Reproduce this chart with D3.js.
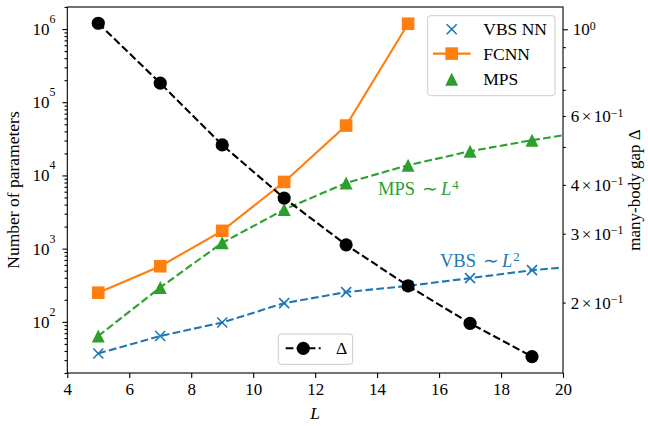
<!DOCTYPE html>
<html>
<head>
<meta charset="utf-8">
<script src="https://cdn.jsdelivr.net/npm/d3@7"></script>
<style>
    body { margin: 0; background: #fff; }
    svg { font-family: "Liberation Serif", "Times New Roman", serif; }
</style>
</head>
<body>
<svg id="chart" width="648" height="426"></svg>
<script>
    // values
    var sizesL = [5, 7, 9, 11, 13, 15, 17, 19];
    var fcnnL = [5, 7, 9, 11, 13, 15];
    var vbsParams = [37, 64, 98, 180, 255, 310, 395, 508];
    var fcnnParams = [250, 575, 1750, 8150, 48000, 1180000];
    var mpsParams = [64, 295, 1200, 3420, 7900, 13800, 21400, 30300];
    var gapValues = [1.036, 0.728, 0.506, 0.370, 0.281, 0.2206, 0.177, 0.1455];

    // dashed fit curves (read at these L)
    var fitL = [5, 7, 9, 11, 13, 15, 17, 19, 20];
    var vbsFit = [37, 64, 98, 180, 255, 310, 395, 508, 553];
    var mpsFit = [64, 295, 1200, 3420, 7900, 13800, 21400, 30300, 35400];

    var xTicks = [4, 6, 8, 10, 12, 14, 16, 18, 20];
    var leftExponents = [2, 3, 4, 5, 6];
    var rightMajor = [1];
    var rightLabelled = [0.6, 0.4, 0.3, 0.2];
    var rightLabelMant = ["6", "4", "3", "2"];
    var rightMinor = [0.9, 0.8, 0.7, 0.5];

    var legendNames = ["VBS NN", "FCNN", "MPS"];

    var colors = {
        vbs: "#1f77b4",
        fcnn: "#ff7f0e",
        mps: "#2ca02c",
        gap: "#000000"
    };

    var svg = d3.select("#chart");
    var box = { left: 67.3, right: 563, top: 7, bottom: 373 };

    var x = d3.scaleLinear().domain([4, 20]).range([box.left, box.right]);
    var yL = d3.scaleLog().domain([20, 2e6]).range([box.bottom, box.top]);
    var yR = d3.scaleLog().domain([0.1321, 1.14]).range([box.bottom, box.top]);

    var fontSize = 17;
    var majorLen = 4.9, minorLen = 2.8, pad = 4.9;

    function styleAxis(g) {
        g.attr("font-family", null).attr("font-size", null);
        g.select(".domain").remove();
        g.selectAll(".tick line").attr("stroke", "#000").attr("stroke-width", 1.1);
        g.selectAll(".tick text").attr("fill", "#000").attr("font-size", fontSize);
    }

    // x axis
    var xg = svg.append("g")
        .attr("transform", "translate(0," + box.bottom + ")")
        .call(d3.axisBottom(x).tickValues(xTicks).tickSize(majorLen).tickPadding(pad).tickFormat(d3.format("d")));
    styleAxis(xg);

    // left axis: minor then major
    var leftMinor = [];
    for (var e = 1; e <= 6; e++) {
        for (var m = 2; m <= 9; m++) {
            var v = m * Math.pow(10, e);
            if (v >= 20 && v <= 2e6) leftMinor.push(v);
        }
    }
    var lmin = svg.append("g").attr("transform", "translate(" + box.left + ",0)")
        .call(d3.axisLeft(yL).tickValues(leftMinor).tickSize(minorLen).tickFormat(""));
    styleAxis(lmin);
    var lmaj = svg.append("g").attr("transform", "translate(" + box.left + ",0)")
        .call(d3.axisLeft(yL).tickValues(leftExponents.map(function(k) { return Math.pow(10, k); })).tickSize(majorLen).tickFormat(""));
    styleAxis(lmaj);

    var leftLbl = svg.append("g").attr("font-size", fontSize);
    leftExponents.forEach(function(k) {
        leftLbl.append("text")
            .attr("x", box.left - majorLen - pad - 8)
            .attr("y", yL(Math.pow(10, k)))
            .attr("dy", "0.35em")
            .attr("text-anchor", "end")
            .text("10");
        leftLbl.append("text")
            .attr("x", box.left - majorLen - pad - 8)
            .attr("y", yL(Math.pow(10, k)) - 6)
            .attr("font-size", fontSize * 0.7)
            .text(k);
    });

    // right axis
    var rmin = svg.append("g").attr("transform", "translate(" + box.right + ",0)")
        .call(d3.axisRight(yR).tickValues(rightMinor.concat(rightLabelled)).tickSize(minorLen).tickFormat(""));
    styleAxis(rmin);
    var rmaj = svg.append("g").attr("transform", "translate(" + box.right + ",0)")
        .call(d3.axisRight(yR).tickValues(rightMajor).tickSize(majorLen).tickFormat(""));
    styleAxis(rmaj);

    var rightLbl = svg.append("g").attr("font-size", fontSize);
    var r1 = rightLbl.append("text")
        .attr("x", box.right + majorLen + pad)
        .attr("y", yR(1)).attr("dy", "0.35em");
    r1.append("tspan").text("10");
    r1.append("tspan").attr("dy", "-0.45em").attr("font-size", fontSize * 0.7).text("0");
    rightLabelled.forEach(function(v, i) {
        var t = rightLbl.append("text")
            .attr("x", box.right + minorLen + pad)
            .attr("y", yR(v)).attr("dy", "0.35em");
        t.append("tspan").text(rightLabelMant[i]);
        t.append("tspan").attr("dx", 2.5).text("\u00d7");
        t.append("tspan").attr("dx", 2.5).text("10");
        t.append("tspan").attr("dy", "-0.45em").attr("font-size", fontSize * 0.7).text("\u22121");
    });

    // frame
    svg.append("rect")
        .attr("x", box.left).attr("y", box.top)
        .attr("width", box.right - box.left).attr("height", box.bottom - box.top)
        .attr("fill", "none").attr("stroke", "#000").attr("stroke-width", 1.1);

    // axis titles
    svg.append("text")
        .attr("x", (box.left + box.right) / 2).attr("y", 419)
        .attr("text-anchor", "middle").attr("font-size", fontSize + 0.5)
        .attr("font-style", "italic").text("L");
    svg.append("text")
        .attr("transform", "translate(19," + (box.top + box.bottom) / 2 + ") rotate(-90)")
        .attr("text-anchor", "middle").attr("font-size", fontSize + 0.5)
        .text("Number of parameters");
    svg.append("text")
        .attr("transform", "translate(640," + (box.top + box.bottom) / 2 + ") rotate(-90)")
        .attr("text-anchor", "middle").attr("font-size", fontSize)
        .text("many-body gap \u0394");

    var plot = svg.append("g");

    var lineL = d3.line().x(function(d) { return x(d[0]); }).y(function(d) { return yL(d[1]); });
    var lineR = d3.line().x(function(d) { return x(d[0]); }).y(function(d) { return yR(d[1]); });
    var dash = "7.7,3.3";

    function zip(a, b) { return a.map(function(v, i) { return [v, b[i]]; }); }

    // VBS fit + markers
    plot.append("path").datum(zip(fitL, vbsFit)).attr("d", lineL)
        .attr("fill", "none").attr("stroke", colors.vbs).attr("stroke-width", 2.1).attr("stroke-dasharray", dash);
    plot.selectAll(".vbs").data(zip(sizesL, vbsParams)).enter().append("path")
        .attr("class", "vbs")
        .attr("transform", function(d) { return "translate(" + x(d[0]) + "," + yL(d[1]) + ")"; })
        .attr("d", "M-5,-5L5,5M-5,5L5,-5")
        .attr("stroke", colors.vbs).attr("stroke-width", 1.6).attr("fill", "none");

    // FCNN
    plot.append("path").datum(zip(fcnnL, fcnnParams)).attr("d", lineL)
        .attr("fill", "none").attr("stroke", colors.fcnn).attr("stroke-width", 2.1);
    plot.selectAll(".fcnn").data(zip(fcnnL, fcnnParams)).enter().append("rect")
        .attr("class", "fcnn")
        .attr("x", function(d) { return x(d[0]) - 6.3; })
        .attr("y", function(d) { return yL(d[1]) - 6.3; })
        .attr("width", 12.6).attr("height", 12.6)
        .attr("fill", colors.fcnn);

    // MPS
    plot.append("path").datum(zip(fitL, mpsFit)).attr("d", lineL)
        .attr("fill", "none").attr("stroke", colors.mps).attr("stroke-width", 2.1).attr("stroke-dasharray", dash);
    plot.selectAll(".mps").data(zip(sizesL, mpsParams)).enter().append("path")
        .attr("class", "mps")
        .attr("transform", function(d) { return "translate(" + x(d[0]) + "," + yL(d[1]) + ")"; })
        .attr("d", "M0,-6.5L6.5,6.5L-6.5,6.5Z")
        .attr("fill", colors.mps);

    // annotations
    var annSize = 18.5;
    function annotate(xPos, yPos, label, power, color) {
        var t = plot.append("text").attr("x", xPos).attr("y", yPos)
            .attr("fill", color).attr("font-size", annSize);
        t.append("tspan").text(label);
        t.append("tspan").attr("dx", 7).text("\u223c");
        t.append("tspan").attr("font-style", "italic").attr("dx", 3).text("L");
        t.append("tspan").attr("dx", 1).attr("dy", "-0.5em").attr("font-size", annSize * 0.7).text(power);
    }
    annotate(378, 195, "MPS", "4", colors.mps);
    annotate(440, 267, "VBS", "2", colors.vbs);

    // gap (twin axis, drawn on top)
    plot.append("path").datum(zip(sizesL, gapValues)).attr("d", lineR)
        .attr("fill", "none").attr("stroke", colors.gap).attr("stroke-width", 2.1).attr("stroke-dasharray", dash);
    plot.selectAll(".gap").data(zip(sizesL, gapValues)).enter().append("circle")
        .attr("class", "gap")
        .attr("cx", function(d) { return x(d[0]); })
        .attr("cy", function(d) { return yR(d[1]); })
        .attr("r", 6.6).attr("fill", colors.gap);

    // legend 1
    var lg = svg.append("g");
    lg.append("rect").attr("x", 427.7).attr("y", 15.7).attr("width", 127.3).attr("height", 80)
        .attr("rx", 3).attr("fill", "#fff").attr("fill-opacity", 0.8)
        .attr("stroke", "#cccccc").attr("stroke-width", 1);
    var rowsY = [29.3, 53.6, 79.3];
    legendNames.forEach(function(name, i) {
        var yy = rowsY[i], cx = 451.7;
        if (i === 0) {
            lg.append("path").attr("transform", "translate(" + cx + "," + yy + ")")
                .attr("d", "M-5,-5L5,5M-5,5L5,-5")
                .attr("stroke", colors.vbs).attr("stroke-width", 1.6).attr("fill", "none");
        } else if (i === 1) {
            lg.append("line").attr("x1", 433).attr("x2", 470.7).attr("y1", yy).attr("y2", yy)
                .attr("stroke", colors.fcnn).attr("stroke-width", 2.1);
            lg.append("rect").attr("x", cx - 6.3).attr("y", yy - 6.3).attr("width", 12.6).attr("height", 12.6)
                .attr("fill", colors.fcnn);
        } else {
            lg.append("path").attr("transform", "translate(" + cx + "," + yy + ")")
                .attr("d", "M0,-6.5L6.5,6.5L-6.5,6.5Z").attr("fill", colors.mps);
        }
        lg.append("text").attr("x", 483.3).attr("y", yy).attr("dy", "0.35em")
            .attr("font-size", 17.5).text(name);
    });

    // legend 2
    var lg2 = svg.append("g");
    lg2.append("rect").attr("x", 278.3).attr("y", 334).attr("width", 74.4).attr("height", 30.3)
        .attr("rx", 3).attr("fill", "#fff").attr("fill-opacity", 0.8)
        .attr("stroke", "#cccccc").attr("stroke-width", 1);
    lg2.append("line").attr("x1", 285.7).attr("x2", 320.7).attr("y1", 348.3).attr("y2", 348.3)
        .attr("stroke", colors.gap).attr("stroke-width", 2.1).attr("stroke-dasharray", dash);
    lg2.append("circle").attr("cx", 303.3).attr("cy", 348.3).attr("r", 6.6).attr("fill", colors.gap);
    lg2.append("text").attr("x", 336).attr("y", 348.3).attr("dy", "0.35em")
        .attr("font-size", 17.5).text("\u0394");
</script>
</body>
</html>
